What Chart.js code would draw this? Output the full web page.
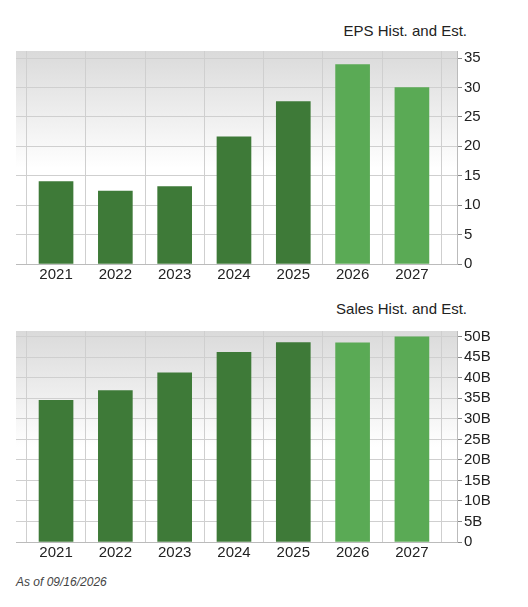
<!DOCTYPE html>
<html><head><meta charset="utf-8">
<script src="https://cdn.jsdelivr.net/npm/chart.js@4/dist/chart.umd.min.js"></script>
<style>
body{margin:0;background:#fff;font-family:"Liberation Sans",Arial,sans-serif;}
.t{position:absolute;font-size:15px;color:#222;right:61px;}
.c{position:absolute;left:0;width:528px;height:250px;}
#asof{position:absolute;left:16px;top:575px;font-size:12px;font-style:italic;color:#444;}
</style></head><body>
<div class="t" style="top:22px">EPS Hist. and Est.</div>
<div class="c" style="top:40px"><canvas id="c1"></canvas></div>
<div class="t" style="top:300px">Sales Hist. and Est.</div>
<div class="c" style="top:320px"><canvas id="c2"></canvas></div>
<div id="asof">As of 09/16/2026</div>
<script>
const years = ["2021","2022","2023","2024","2025","2026","2027"];
const epsValues = [14.0, 12.4, 13.15, 21.6, 27.6, 33.9, 30.0];
const salesValues = [34.5, 36.9, 41.2, 46.2, 48.6, 48.5, 50.0]; // billions
const isEstimate = [false,false,false,false,false,true,true];
const colors = isEstimate.map(e => e ? "#5aaa55" : "#3e7a38");

const bgPlugin = {id:'bg', beforeDraw(ch){const a=ch.chartArea,ctx=ch.ctx;
  const g=ctx.createLinearGradient(0,a.top,0,a.bottom);
  g.addColorStop(0,'#dadada');g.addColorStop(0.55,'#ffffff');g.addColorStop(1,'#ffffff');
  ctx.save();ctx.fillStyle=g;ctx.fillRect(a.left,a.top,a.right-a.left,a.bottom-a.top);ctx.restore();}};

function make(id, vals, yMax, step, fmt, padBottom){
  new Chart(document.getElementById(id),{
    type:'bar',
    data:{datasets:[{data:vals.map((v,i)=>({x:i,y:v})),backgroundColor:colors,barThickness:34}]},
    plugins:[bgPlugin],
    options:{responsive:true,maintainAspectRatio:false,animation:false,
      layout:{padding:{left:16,top:5,right:0,bottom:padBottom}},
      plugins:{legend:{display:false},tooltip:{enabled:false}},
      scales:{
        x:{type:'linear',min:-0.675,max:6.76,offset:false,
          afterBuildTicks(ax){ax.ticks=years.map((y,i)=>({value:i}));},
          afterFit(ax){ax.height=21;},
          grid:{color:'#cfcfcf',drawTicks:false},
          border:{color:'#bbb'},
          ticks:{callback:(v)=>years[v],font:{size:15,family:'Liberation Sans'},color:'#222',padding:2,maxRotation:0}},
        y:{position:'right',min:0,max:yMax,
          afterBuildTicks(ax){const t=[];for(let v=0;v<=yMax-1;v+=step)t.push({value:v});ax.ticks=t;},
          afterFit(ax){ax.width=71;},
          grid:{color:'#cfcfcf',tickLength:5,tickColor:'#888'},
          border:{color:'#bbb'},
          ticks:{callback:fmt,font:{size:15,family:'Liberation Sans'},color:'#222',padding:2}}
      }}
  });
}
make('c1', epsValues, 36.2, 5, v=>String(v), 5);
make('c2', salesValues, 51.4, 5, v=>v===0?'0':v+'B', 7);
</script></body></html>
